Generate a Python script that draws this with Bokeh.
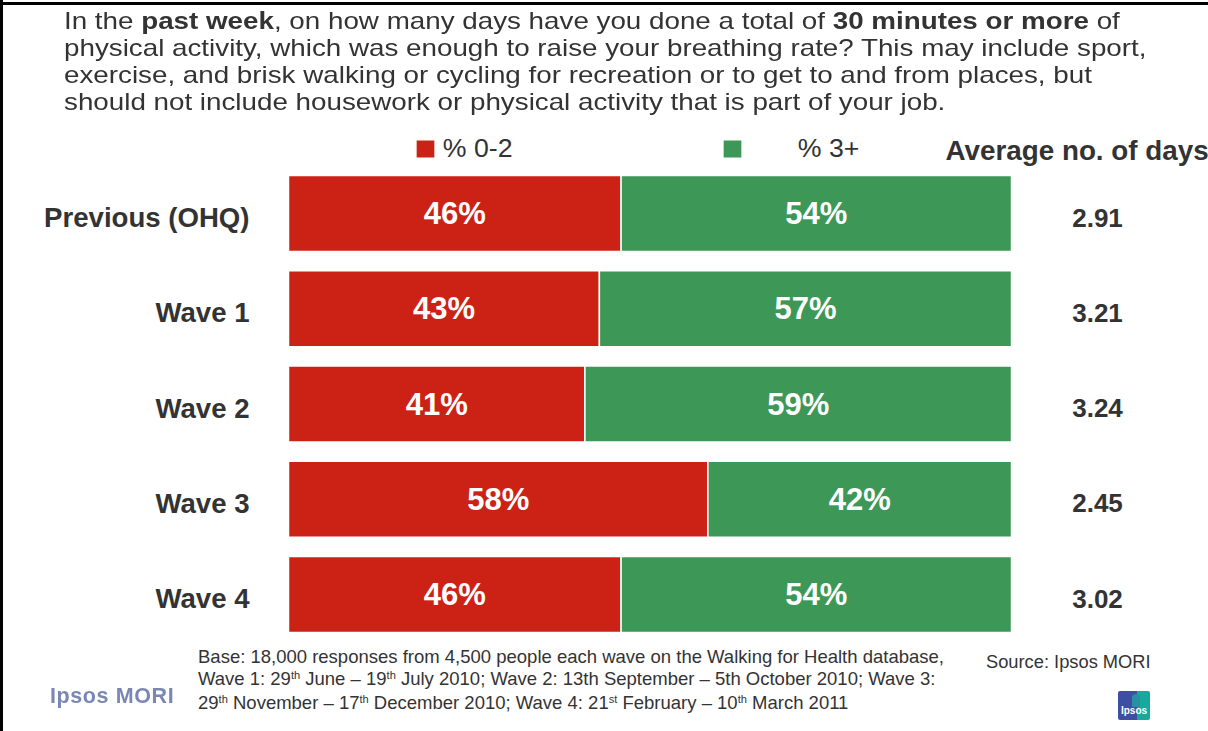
from bokeh.plotting import figure
from bokeh.models import Range1d, ColumnDataSource, Legend, LegendItem, Div
from bokeh.layouts import column, row
from bokeh.embed import file_html
from bokeh.resources import INLINE
from bokeh.core.properties import value

# ---------------- data ----------------
categories = ["Previous (OHQ)", "Wave 1", "Wave 2", "Wave 3", "Wave 4"]
pct_0_2 = [46, 43, 41, 58, 46]
pct_3_plus = [54, 57, 59, 42, 54]
avg_days = ["2.91", "3.21", "3.24", "2.45", "3.02"]
series_labels = ["% 0-2", "% 3+"]
avg_header = "Average no. of days"

# ---------------- style ----------------
RED = "#CC2216"
GREEN = "#3D9756"
TXT = "#333333"
FONT = "Liberation Sans"

FIG_W, FIG_H = 1205, 517
PX_PER_PCT = 7.23          # horizontal scale
ZERO_X = 285               # px of 0 % inside the figure
ROW_PX = 95.25             # px between bar rows
FIRST_ROW_Y = 85           # px of first bar centre from top of figure

x_start = -ZERO_X / PX_PER_PCT
x_end = (FIG_W - ZERO_X) / PX_PER_PCT
y_top = -FIRST_ROW_Y / ROW_PX
y_bottom = (FIG_H - FIRST_ROW_Y) / ROW_PX

ys = list(range(len(categories)))
src = ColumnDataSource(dict(
    y=ys,
    cat=categories,
    p02=pct_0_2,
    p3=pct_3_plus,
    total=[a + b for a, b in zip(pct_0_2, pct_3_plus)],
    mid1=[a / 2 for a in pct_0_2],
    mid2=[a + b / 2 for a, b in zip(pct_0_2, pct_3_plus)],
    lab1=[f"{a}%" for a in pct_0_2],
    lab2=[f"{b}%" for b in pct_3_plus],
    avg=avg_days,
))

p = figure(width=FIG_W, height=FIG_H,
           x_range=Range1d(x_start, x_end),
           y_range=Range1d(y_bottom, y_top),
           output_backend="svg", toolbar_location=None,
           x_axis_location=None, y_axis_location=None,
           min_border=0)
p.grid.visible = False
p.outline_line_color = None
p.background_fill_color = "white"
p.border_fill_color = "white"

r_red = p.hbar(y="y", left=0, right="p02", height=0.8, source=src,
               fill_color=RED, line_color="white", line_width=1.5)
r_green = p.hbar(y="y", left="p02", right="total", height=0.8, source=src,
                 fill_color=GREEN, line_color="white", line_width=1.5)

# percentages inside bars
for xcol, lcol in (("mid1", "lab1"), ("mid2", "lab2")):
    p.text(x=xcol, y="y", text=lcol, source=src,
           text_font=value(FONT), text_font_style="bold",
           text_font_size="31px", text_color="white",
           text_align="center", text_baseline="middle")

# category labels (left)
cat_x = (249 - 288) / PX_PER_PCT
p.text(x=cat_x, y="y", text="cat", source=src,
       text_font=value(FONT), text_font_style="bold",
       text_font_size="27.6px", text_color=TXT,
       text_align="right", text_baseline="middle", y_offset=4)

# averages (right)
avg_x = (1097 - 288) / PX_PER_PCT
p.text(x=avg_x, y="y", text="avg", source=src,
       text_font=value(FONT), text_font_style="bold",
       text_font_size="26px", text_color=TXT,
       text_align="center", text_baseline="middle", y_offset=4)

# header of averages column
hdr_src = ColumnDataSource(dict(x=[(945 - 288) / PX_PER_PCT],
                                y=[(150 - 213) / ROW_PX],
                                t=[avg_header]))
p.text(x="x", y="y", text="t", source=hdr_src,
       text_font=value(FONT), text_font_style="bold",
       text_font_size="27.8px", text_color=TXT,
       text_align="left", text_baseline="middle")

# legends
GW, GH = 24, 23
def make_legend(label, rend, x, standoff):
    lg = Legend(items=[LegendItem(label=label, renderers=[rend])],
                location=(x, 481), orientation="horizontal",
                glyph_width=GW, glyph_height=GH, label_standoff=standoff,
                padding=0, margin=0, spacing=0,
                border_line_color=None, background_fill_alpha=0,
                label_text_font=FONT, label_text_font_size="26.7px",
                label_text_color=TXT, label_text_line_height=0.6,
                label_height=GH)
    p.add_layout(lg, "center")

make_legend(series_labels[0], r_red, 409.85, 6)
make_legend(series_labels[1], r_green, 716.85, 54)

# ---------------- title & footer ----------------
title_html = (
    "<div style=\"padding-left:61px;padding-top:1.5px;\">"
    f"<div style=\"font-family:'{FONT}',Arial,sans-serif;font-size:24px;"
    f"line-height:27px;color:{TXT};white-space:nowrap;"
    "transform:scaleX(1.157);transform-origin:0 0;\">"
    "In the <b>past week</b>, on how many days have you done a total of "
    "<b>30 minutes or more</b> of<br>"
    "physical activity, which was enough to raise your breathing rate? This may include sport,<br>"
    "exercise, and brisk walking or cycling for recreation or to get to and from places, but<br>"
    "should not include housework or physical activity that is part of your job."
    "</div></div>"
)

sup = "<span style=\"font-size:0.6em;position:relative;top:-0.5em;\">{}</span>"
footer_html = (
    f"<div style=\"position:relative;width:1205px;height:86px;"
    f"font-family:'{FONT}',Arial,sans-serif;color:{TXT};\">"
    "<div style=\"position:absolute;left:195px;top:1px;font-size:18.5px;"
    "line-height:22px;white-space:nowrap;\">"
    "Base: 18,000 responses from 4,500 people each wave on the Walking for Health database,<br>"
    f"Wave 1: 29{sup.format('th')} June – 19{sup.format('th')} July 2010; "
    "Wave 2: 13th September – 5th October 2010; Wave 3:<br>"
    f"29{sup.format('th')} November – 17{sup.format('th')} December 2010; "
    f"Wave 4: 21{sup.format('st')} February – 10{sup.format('th')} March 2011"
    "</div>"
    "<div style=\"position:absolute;left:983px;top:6px;font-size:18.3px;"
    "line-height:22px;white-space:nowrap;\">Source: Ipsos MORI</div>"
    "<div style=\"position:absolute;left:47px;top:40px;font-size:21.5px;font-weight:bold;"
    "letter-spacing:0.6px;line-height:22px;white-space:nowrap;color:#6573a6;opacity:0.85;"
    "filter:blur(0.6px);\">Ipsos MORI</div>"
    "<div style=\"position:absolute;left:1115px;top:46px;width:32px;height:29px;"
    "background:linear-gradient(90deg,#3d4ea3 58%,#19a99c 58%);border-radius:2px;\">"
    "<div style=\"position:absolute;left:14px;top:3px;width:8px;height:13px;"
    "background:#2a8fa0;border-radius:4px 4px 1px 1px;\"></div>"
    "<div style=\"position:absolute;left:0;bottom:2px;width:32px;text-align:center;"
    "color:white;font-size:10px;font-weight:bold;\">Ipsos</div></div>"
    "</div>"
)

top_line = Div(text="", width=1205, height=3, margin=(2, 0, 0, 0),
               styles={"background-color": "#000000"})
title_div = Div(text=title_html, width=1205, height=123, margin=0)
footer_div = Div(text=footer_html, width=1205, height=86, margin=0)
left_line = Div(text="", width=3, height=731, margin=0,
                styles={"background-color": "#000000"})

layout = row(left_line, column(top_line, title_div, p, footer_div, spacing=0), spacing=0)

open("out.html", "w").write(file_html(layout, INLINE))
